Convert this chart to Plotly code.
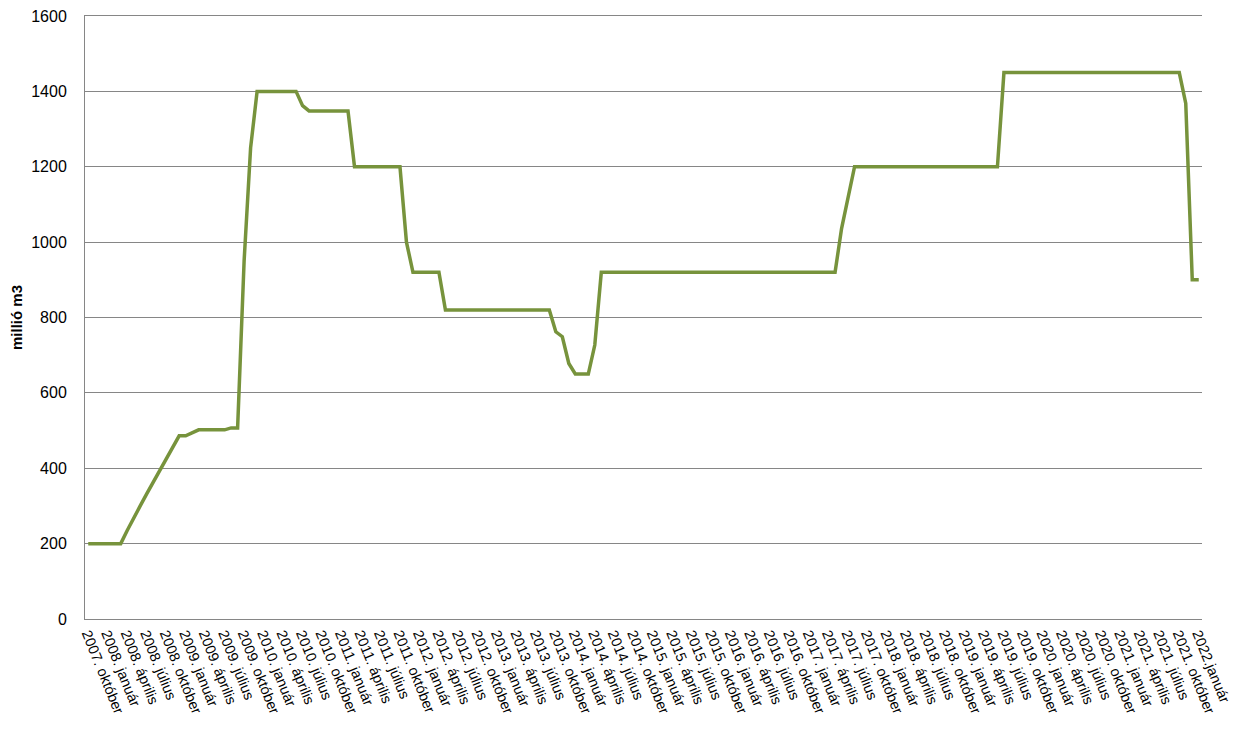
import plotly.graph_objects as go

month_names = ["január", "február", "március", "április", "május", "június",
               "július", "augusztus", "szeptember", "október", "november", "december"]
start_year, start_month = 2007, 10   # 2007. október
n_months = 172                        # up to 2022. január

categories = []
y, m = start_year, start_month
for _ in range(n_months):
    categories.append(f"{y}. {month_names[m - 1]}")
    m += 1
    if m > 12:
        m = 1
        y += 1
categories[-1] = "2022.január"

values = [
    200, 200, 200, 200, 200, 200,
    235, 270, 300, 332, 363, 395, 425, 455, 486, 486, 495, 502,
    502, 502, 502, 502, 507, 507,
    950, 1250, 1400, 1400, 1400, 1400, 1400, 1400, 1400,
    1362, 1348, 1348, 1348, 1348, 1348, 1348, 1348,
    1200, 1200, 1200, 1200, 1200, 1200, 1200, 1200,
    1000, 920, 920, 920, 920, 920,
    820, 820, 820, 820, 820, 820, 820, 820, 820, 820, 820, 820, 820, 820, 820, 820, 820,
    762, 749, 678, 650, 650, 650, 727,
    920, 920, 920, 920, 920, 920, 920, 920, 920, 920,
    920, 920, 920, 920, 920, 920, 920, 920, 920, 920,
    920, 920, 920, 920, 920, 920, 920, 920, 920, 920,
    920, 920, 920, 920, 920, 920, 920,
    1036, 1118,
    1200, 1200, 1200, 1200, 1200, 1200, 1200, 1200, 1200, 1200,
    1200, 1200, 1200, 1200, 1200, 1200, 1200, 1200, 1200, 1200,
    1200, 1200, 1200,
    1450, 1450, 1450, 1450, 1450, 1450, 1450, 1450, 1450, 1450,
    1450, 1450, 1450, 1450, 1450, 1450, 1450, 1450, 1450, 1450,
    1450, 1450, 1450, 1450, 1450, 1450, 1450, 1450,
    1368, 900, 900,
]

tick_labels = categories[::3]
y_ticks = [0, 200, 400, 600, 800, 1000, 1200, 1400, 1600]

FONT = "Liberation Sans"

fig = go.Figure()
fig.add_trace(go.Scatter(
    x=categories, y=values, mode="lines",
    line=dict(color="#77933C", width=3.5),
    showlegend=False,
))

fig.update_layout(
    width=1235, height=727,
    margin=dict(l=77, r=41, t=8, b=116, autoexpand=False),
    paper_bgcolor="white", plot_bgcolor="white",
    font=dict(family=FONT, size=13, color="black"),
)
fig.update_xaxes(
    type="category",
    categoryorder="array", categoryarray=categories,
    range=[-0.5, n_months - 0.5],
    tickmode="array", tickvals=tick_labels, ticktext=tick_labels,
    tickangle=68,
    showgrid=False,
    showline=True, linecolor="#868686", linewidth=1, mirror=True,
    ticks="", zeroline=False, automargin=False,
    ticklabeloverflow="allow",
    tickfont=dict(family=FONT, size=14.5),
)
fig.update_yaxes(
    range=[0, 1600],
    tickmode="array", tickvals=y_ticks,
    showgrid=True, gridcolor="#868686", gridwidth=1,
    showline=True, linecolor="#868686", linewidth=1,
    zeroline=False, automargin=False,
    ticklabeloverflow="allow",
    ticks="outside", ticklen=14, tickcolor="rgba(0,0,0,0)",
    tickfont=dict(family=FONT, size=16),
    title=dict(text="<b>millió m3</b>", font=dict(family=FONT, size=15), standoff=16),
)

fig.write_html("out.html")
